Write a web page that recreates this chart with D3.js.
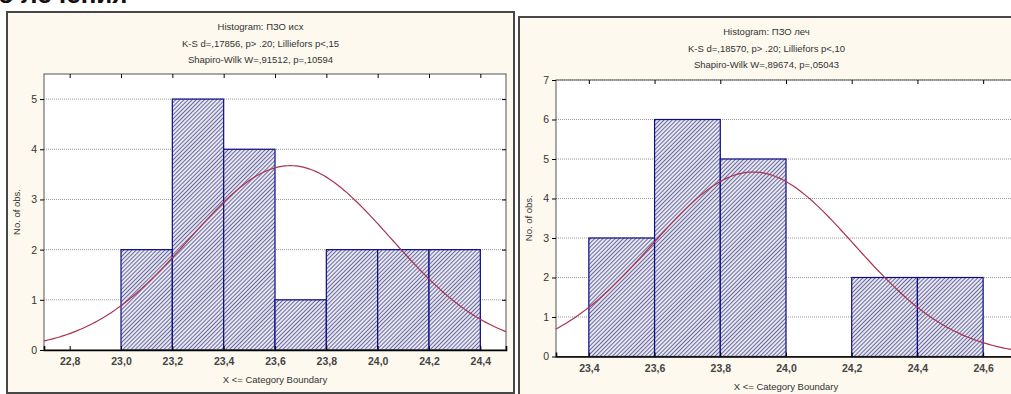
<!DOCTYPE html>
<html>
<head>
<meta charset="utf-8">
<script src="https://cdn.jsdelivr.net/npm/d3@7"></script>
<style>
  body { margin: 0; background: #fff; }
  text { font-family: "Liberation Sans", Arial, sans-serif; }
</style>
</head>
<body>
<svg width="1011" height="394"></svg>
<script>
// bins are (lower, lower + binWidth]
const binWidth = 0.2;

const leftBins = [23.0, 23.2, 23.4, 23.6, 23.8, 24.0, 24.2];
const leftCounts = [2, 5, 4, 1, 2, 2, 2];
const leftXTicks = [22.8, 23.0, 23.2, 23.4, 23.6, 23.8, 24.0, 24.2, 24.4];
const leftYTicks = [0, 1, 2, 3, 4, 5];
const leftTitles = [
  'Histogram: ПЗО исх',
  'K-S d=,17856, p> .20; Lilliefors p<,15',
  'Shapiro-Wilk W=,91512, p=,10594'
];
// fitted normal
const leftMean = 23.66, leftSd = 0.391, leftN = 18;

const rightBins = [23.4, 23.6, 23.8, 24.0, 24.2, 24.4];
const rightCounts = [3, 6, 5, 0, 2, 2];
const rightXTicks = [23.4, 23.6, 23.8, 24.0, 24.2, 24.4, 24.6];
const rightYTicks = [0, 1, 2, 3, 4, 5, 6, 7];
const rightTitles = [
  'Histogram: ПЗО леч',
  'K-S d=,18570, p> .20; Lilliefors p<,10',
  'Shapiro-Wilk W=,89674, p=,05043'
];
const rightMean = 23.9, rightSd = 0.3075, rightN = 18;

const svg = d3.select('svg');
const fmt = d3.formatLocale({decimal: ',', thousands: ' ', grouping: [3], currency: ['', '']}).format('.1f');

// hatch pattern for the bars
const defs = svg.append('defs');
const pat = defs.append('pattern')
  .attr('id', 'hatch')
  .attr('patternUnits', 'userSpaceOnUse')
  .attr('width', 2.9)
  .attr('height', 2.9)
  .attr('patternTransform', 'rotate(45)');
pat.append('rect').attr('width', 2.9).attr('height', 2.9).attr('fill', '#e6e6f2');
pat.append('line')
  .attr('x1', 0).attr('y1', 0).attr('x2', 0).attr('y2', 2.9)
  .attr('stroke', '#2b2b6e').attr('stroke-width', 1.3);

// cut-off heading above the charts
svg.append('text')
  .attr('x', -2)
  .attr('y', 3)
  .text('о лечения')
  .style('font-size', '26px')
  .style('font-weight', 'bold')
  .style('fill', '#111');

function drawHist(frame, plot, xDomain, yDomain, bins, counts, xTicks, yTicks, titles, mean, sd, n) {
  const g = svg.append('g');

  g.append('rect')
    .attr('x', frame.x).attr('y', frame.y)
    .attr('width', frame.w).attr('height', frame.h)
    .attr('fill', '#fdf9ee')
    .attr('stroke', '#474747')
    .attr('stroke-width', 2);

  titles.forEach((t, i) => {
    g.append('text')
      .attr('x', frame.x + frame.w / 2)
      .attr('y', frame.y + 18 + i * 16.7)
      .attr('text-anchor', 'middle')
      .text(t)
      .style('font-size', '9.5px')
      .style('fill', '#333');
  });

  const x = d3.scaleLinear().domain(xDomain).range([plot.l, plot.r]);
  const y = d3.scaleLinear().domain(yDomain).range([plot.b, plot.t]);

  g.append('rect')
    .attr('x', plot.l).attr('y', plot.t)
    .attr('width', plot.r - plot.l).attr('height', plot.b - plot.t)
    .attr('fill', '#fff');

  // dotted gridlines
  g.selectAll('.grid')
    .data(yTicks.filter(d => d > 0))
    .enter()
    .append('line')
    .attr('x1', plot.l).attr('x2', plot.r)
    .attr('y1', d => y(d)).attr('y2', d => y(d))
    .attr('stroke', '#999')
    .attr('stroke-width', 1)
    .attr('stroke-dasharray', '1,1');

  // bars
  g.selectAll('.bar')
    .data(bins.map((b, i) => ({lo: b, c: counts[i]})).filter(d => d.c > 0))
    .enter()
    .append('rect')
    .attr('x', d => x(d.lo))
    .attr('y', d => y(d.c))
    .attr('width', d => x(d.lo + binWidth) - x(d.lo))
    .attr('height', d => y(0) - y(d.c))
    .attr('fill', 'url(#hatch)')
    .attr('stroke', '#0b0b86')
    .attr('stroke-width', 1.2);

  // fitted normal curve
  const pts = d3.range(xDomain[0], xDomain[1] + 0.0001, 0.01);
  const expected = v => n * binWidth * Math.exp(-0.5 * ((v - mean) / sd) ** 2) / (sd * Math.sqrt(2 * Math.PI));
  g.append('path')
    .datum(pts)
    .attr('d', d3.line().x(d => x(d)).y(d => y(expected(d))))
    .attr('fill', 'none')
    .attr('stroke', '#a8344f')
    .attr('stroke-width', 1.2);

  // plot border
  g.append('rect')
    .attr('x', plot.l).attr('y', plot.t)
    .attr('width', plot.r - plot.l).attr('height', plot.b - plot.t)
    .attr('fill', 'none')
    .attr('stroke', '#555')
    .attr('stroke-width', 1);

  const xAxis = g.append('g')
    .attr('transform', `translate(0,${plot.b})`)
    .call(d3.axisBottom(x).tickValues(xTicks).tickFormat(fmt).tickSize(-4).tickPadding(8));
  xAxis.select('.domain').attr('stroke', '#000').attr('stroke-width', 1.6);
  xAxis.selectAll('text').style('font-size', '10.5px').style('fill', '#444').style('font-weight', 'bold');

  g.append('g')
    .attr('transform', `translate(0,${plot.t})`)
    .call(d3.axisTop(x).tickValues(xTicks).tickFormat('').tickSize(-4))
    .select('.domain').remove();

  const yAxis = g.append('g')
    .attr('transform', `translate(${plot.l},0)`)
    .call(d3.axisLeft(y).tickValues(yTicks).tickFormat(d3.format('d')).tickSize(4).tickPadding(3));
  yAxis.select('.domain').remove();
  yAxis.selectAll('text').style('font-size', '10.5px').style('fill', '#333');

  g.append('g')
    .attr('transform', `translate(${plot.r},0)`)
    .call(d3.axisRight(y).tickValues(yTicks).tickFormat('').tickSize(-4))
    .select('.domain').remove();

  g.append('text')
    .attr('transform', `translate(${plot.l - 24},${(plot.t + plot.b) / 2}) rotate(-90)`)
    .attr('text-anchor', 'middle')
    .text('No. of obs.')
    .style('font-size', '9.5px')
    .style('fill', '#333');

  g.append('text')
    .attr('x', (plot.l + plot.r) / 2)
    .attr('y', plot.b + 33)
    .attr('text-anchor', 'middle')
    .text('X <= Category Boundary')
    .style('font-size', '9.5px')
    .style('fill', '#333');
}

drawHist({x: 7, y: 12, w: 507, h: 381}, {l: 44, r: 506, t: 74, b: 350},
  [22.7, 24.5], [0, 5.5], leftBins, leftCounts, leftXTicks, leftYTicks, leftTitles,
  leftMean, leftSd, leftN);

drawHist({x: 519, y: 17, w: 495, h: 382}, {l: 556, r: 1016, t: 80, b: 356.5},
  [23.3, 24.7], [0, 7], rightBins, rightCounts, rightXTicks, rightYTicks, rightTitles,
  rightMean, rightSd, rightN);
</script>
</body>
</html>
